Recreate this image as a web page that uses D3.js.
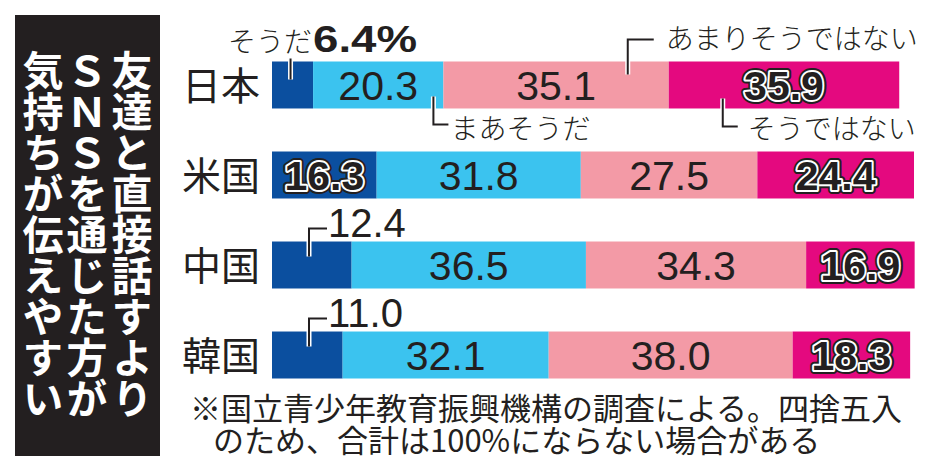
<!DOCTYPE html>
<html>
<head>
<meta charset="utf-8">
<script src="https://cdn.jsdelivr.net/npm/d3@7"></script>
<style>
  body { margin: 0; background: #fff; }
  svg { display: block; }
</style>
</head>
<body>
<svg id="chart"></svg>
<script>
// data
var countries = ["日本", "米国", "中国", "韓国"];
var categories = ["そうだ", "まあそうだ", "あまりそうではない", "そうではない"];
var yes = [6.4, 16.3, 12.4, 11.0];
var ratherYes = [20.3, 31.8, 36.5, 32.1];
var ratherNo = [35.1, 27.5, 34.3, 38.0];
var no = [35.9, 24.4, 16.9, 18.3];
var colors = ["#0b4f9f", "#3bc3ef", "#f39aa6", "#e4097f"];
var titleCols = ["友達と直接話すより", "ＳＮＳを通じた方が", "気持ちが伝えやすい"];
var notes = ["※国立青少年教育振興機構の調査による。四捨五入", "のため、合計は100%にならない場合がある"];

var width = 934;
var height = 473;
var ink = "#231f20";
var jp = "'Noto Sans CJK JP', sans-serif";
var num = "'Liberation Sans', Arial, sans-serif";

var chart = d3.select("#chart")
  .attr("width", width)
  .attr("height", height);

var x = d3.scaleLinear().domain([0, 100]).range([272, 914]);
var y = d3.scaleBand().domain(countries).range([61.5, 378.5]).paddingInner(0.478).paddingOuter(0);

// title box with vertical text, columns right to left
chart.append("rect")
  .attr("x", 15).attr("y", 15)
  .attr("width", 145).attr("height", 441)
  .attr("fill", "#231f20");

var colX = [132, 87, 43];
chart.selectAll("text.title")
    .data(titleCols)
  .enter().append("text")
    .attr("class", "title")
    .attr("x", function(d, i) { return colX[i]; })
    .attr("y", 50)
    .style("writing-mode", "vertical-rl")
    .style("text-orientation", "upright")
    .attr("font-family", jp)
    .attr("font-weight", 700)
    .attr("font-size", 41)
    .attr("fill", "#fff")
    .text(function(d) { return d; });

// stack the four series
var rows = countries.map(function(c, i) {
  var vals = [yes[i], ratherYes[i], ratherNo[i], no[i]];
  var acc = 0;
  return vals.map(function(v, k) {
    var seg = { country: c, row: i, k: k, v: v, x0: acc, x1: acc + v };
    acc += v;
    return seg;
  });
});
var segs = [].concat.apply([], rows);

chart.selectAll("rect.seg")
    .data(segs)
  .enter().append("rect")
    .attr("class", "seg")
    .attr("x", function(d) { return x(d.x0); })
    .attr("y", function(d) { return y(d.country); })
    .attr("width", function(d) { return x(d.x1) - x(d.x0); })
    .attr("height", y.bandwidth())
    .attr("fill", function(d) { return colors[d.k]; });

// country names
chart.selectAll("text.country")
    .data(countries)
  .enter().append("text")
    .attr("class", "country")
    .attr("x", x(0) - 12)
    .attr("y", function(d) { return y(d) + y.bandwidth() / 2 + 15; })
    .attr("text-anchor", "end")
    .attr("font-family", jp)
    .attr("font-size", 39)
    .attr("fill", ink)
    .text(function(d) { return d; });

// values inside the bars; dark segments get the outlined style
var inside = segs.filter(function(d) { return d.v >= 13; });
function isDark(d) { return d.k === 0 || d.k === 3; }

function valueText(sel) {
  return sel
    .attr("x", function(d) { return (x(d.x0) + x(d.x1)) / 2; })
    .attr("y", function(d) { return y(d.country) + y.bandwidth() / 2 + 15; })
    .attr("text-anchor", "middle")
    .attr("font-family", num)
    .attr("font-size", 41)
    .text(function(d) { return d.v.toFixed(1); });
}

chart.selectAll("text.vout")
    .data(inside.filter(isDark))
  .enter().append("text")
    .attr("class", "vout")
    .call(valueText)
    .attr("font-weight", 700)
    .attr("fill", ink)
    .attr("stroke", ink)
    .attr("stroke-width", 8)
    .attr("stroke-linejoin", "round");

chart.selectAll("text.vin")
    .data(inside)
  .enter().append("text")
    .attr("class", "vin")
    .call(valueText)
    .attr("font-weight", function(d) { return isDark(d) ? 700 : 400; })
    .attr("fill", ink)
    .attr("stroke", function(d) { return isDark(d) ? "#fff" : "none"; })
    .attr("stroke-width", 4)
    .attr("stroke-linejoin", "round")
    .attr("paint-order", "stroke");

// leader line helper: black line with a thin white halo
function leader(points) {
  var line = d3.line();
  chart.append("path").attr("d", line(points))
    .attr("fill", "none").attr("stroke", "#fff").attr("stroke-width", 5);
  chart.append("path").attr("d", line(points))
    .attr("fill", "none").attr("stroke", ink).attr("stroke-width", 2);
}

// small first segments labelled above the bar (China, Korea)
segs.filter(function(d) { return d.v < 13 && d.country !== "日本"; }).forEach(function(d) {
  var top = y(d.country);
  var lx = x(0) + 37;
  leader([[lx, top + 15], [lx, top - 13], [lx + 18, top - 13]]);
  chart.append("text")
    .attr("x", lx + 19)
    .attr("y", top - 5)
    .attr("font-family", num)
    .attr("font-size", 40)
    .attr("fill", ink)
    .text(d.v.toFixed(1));
});

// Japan row carries the category callouts
var jTop = y("日本");
var jBot = jTop + y.bandwidth();
var j = rows[0];
var calloutFont = { family: jp, size: 28, weight: 300 };

function callout(tx, ty, str, anchor) {
  return chart.append("text")
    .attr("x", tx).attr("y", ty)
    .attr("text-anchor", anchor || "start")
    .attr("font-family", calloutFont.family)
    .attr("font-weight", calloutFont.weight)
    .attr("font-size", calloutFont.size)
    .attr("fill", ink)
    .text(str);
}

// そうだ 6.4%
var l0 = (x(j[0].x0) + x(j[0].x1)) / 2 - 2;
leader([[l0, jTop - 3], [l0, jTop + 18]]);
callout(x(j[0].x1) - 1, jTop - 10, categories[0], "end");
chart.append("text")
  .attr("x", x(j[0].x1))
  .attr("y", jTop - 10)
  .attr("font-family", num)
  .attr("font-weight", 700)
  .attr("font-size", 37)
  .attr("fill", ink)
  .attr("textLength", 104)
  .attr("lengthAdjust", "spacingAndGlyphs")
  .text(j[0].v.toFixed(1) + "%");

// まあそうだ (below)
var l1 = x(j[1].x1) - 10;
leader([[l1, jTop + 35], [l1, jBot + 16], [l1 + 15, jBot + 16]]);
callout(l1 + 17, jBot + 31, categories[1]);

// あまりそうではない (above)
var l2 = x(j[2].x1) - 41;
leader([[l2, jTop + 13], [l2, jTop - 22], [l2 + 26, jTop - 22]]);
callout(l2 + 38, jTop - 13, categories[2]);

// そうではない (below)
var l3 = x(j[3].x0) + 54;
leader([[l3, jTop + 37], [l3, jBot + 18], [l3 + 15, jBot + 18]]);
callout(l3 + 25, jBot + 31, categories[3]);

// source note, two lines in one text block
var note = chart.append("text")
  .attr("y", 420)
  .attr("font-family", jp)
  .attr("font-size", 31)
  .attr("fill", ink);
note.selectAll("tspan")
    .data(notes)
  .enter().append("tspan")
    .attr("x", function(d, i) { return i === 0 ? 190 : 213; })
    .attr("dy", function(d, i) { return i === 0 ? 0 : 32; })
    .text(function(d) { return d; });
</script>
</body>
</html>
